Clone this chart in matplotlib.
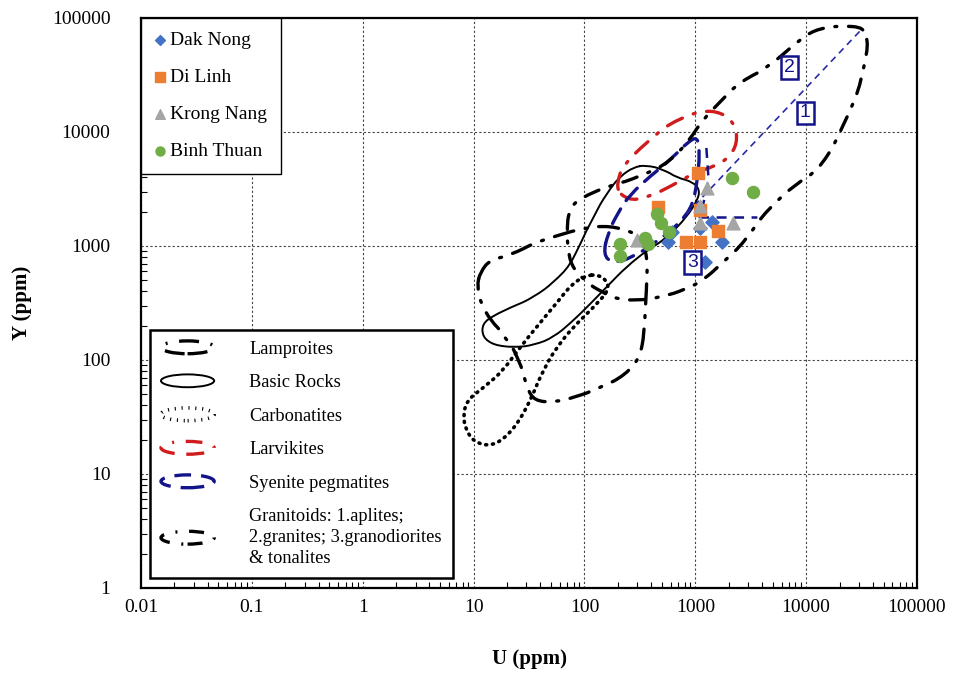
import numpy as np
import matplotlib
matplotlib.use('Agg')
import matplotlib.pyplot as plt
import matplotlib.patches as mpatches
from matplotlib.path import Path
from matplotlib.legend_handler import HandlerPatch

plt.rcParams['font.family'] = ['Liberation Serif', 'DejaVu Serif']

#-------------------------------------------------------------------
# samples, U and Y in ppm
dak_nong_u = [567, 617, 1100, 1415, 1740, 1220]
dak_nong_y = [1085, 1330, 1440, 1620, 1085, 725]

di_linh_u = [460, 1060, 1100, 1600, 825, 1100]
di_linh_y = [2200, 4370, 2070, 1355, 1085, 1085]

krong_nang_u = [298, 1275, 1100, 1100, 2190]
krong_nang_y = [1130, 3230, 2245, 1590, 1590]

binh_thuan_u = [209, 211, 352, 374, 451, 491, 579, 2140, 3310]
binh_thuan_y = [1040, 815, 1175, 1045, 1910, 1590, 1330, 3950, 2980]

# field outlines as (log10 U, log10 Y)
lamproites = [(1.06, 2.77), (1.15, 2.88), (1.33, 2.92), (1.55, 3.03), (1.75, 3.09),
              (1.92, 3.14), (2.14, 3.18), (2.35, 3.15), (2.50, 3.08), (2.57, 2.90),
              (2.56, 2.61), (2.54, 2.22), (2.50, 2.02), (2.37, 1.87), (2.12, 1.75),
              (1.90, 1.67), (1.72, 1.63), (1.55, 1.64), (1.48, 1.75), (1.41, 2.00),
              (1.28, 2.20), (1.15, 2.35), (1.07, 2.48), (1.03, 2.64)]

basic_rocks = [(2.55, 3.71), (2.71, 3.67), (2.83, 3.60), (2.98, 3.56), (3.04, 3.49),
               (3.02, 3.40), (2.92, 3.25), (2.74, 3.07), (2.56, 2.96), (2.38, 2.82),
               (2.17, 2.61), (2.02, 2.46), (1.87, 2.32), (1.72, 2.20), (1.54, 2.13),
               (1.36, 2.11), (1.18, 2.13), (1.08, 2.20), (1.08, 2.32), (1.18, 2.39),
               (1.33, 2.46), (1.54, 2.55), (1.72, 2.68), (1.87, 2.83), (1.96, 3.01),
               (2.07, 3.23), (2.20, 3.46), (2.32, 3.61), (2.44, 3.69)]

carbonatites = [(2.11, 2.75), (2.20, 2.70), (2.22, 2.61), (2.08, 2.46), (1.90, 2.29),
                (1.75, 2.11), (1.63, 1.91), (1.53, 1.68), (1.42, 1.47), (1.27, 1.30),
                (1.12, 1.24), (0.97, 1.30), (0.90, 1.47), (0.94, 1.65), (1.08, 1.75),
                (1.27, 1.91), (1.42, 2.11), (1.57, 2.29), (1.75, 2.50), (1.90, 2.68),
                (2.02, 2.74)]

larvikites = [(2.29, 3.54), (2.35, 3.71), (2.55, 3.90), (2.77, 4.08), (3.04, 4.19),
              (3.24, 4.17), (3.36, 4.06), (3.38, 3.90), (3.30, 3.77), (3.15, 3.69),
              (3.00, 3.65), (2.77, 3.52), (2.57, 3.43), (2.43, 3.40), (2.32, 3.45)]

syenite_pegmatites = [(2.17, 2.92), (2.25, 2.85), (2.41, 2.89), (2.64, 3.03), (2.86, 3.20),
                      (2.98, 3.36), (3.02, 3.58), (3.04, 3.80), (3.02, 3.96), (2.93, 3.91),
                      (2.79, 3.77), (2.59, 3.61), (2.41, 3.45), (2.29, 3.27), (2.21, 3.10)]

granitoids = [(4.49, 4.92), (4.33, 4.93), (4.19, 4.92), (4.04, 4.88), (3.87, 4.75),
              (3.67, 4.58), (3.40, 4.44), (3.22, 4.26), (3.07, 4.11), (2.95, 3.93),
              (2.77, 3.74), (2.50, 3.61), (2.19, 3.52), (1.96, 3.42), (1.86, 3.32),
              (1.84, 3.10), (1.86, 2.89), (1.92, 2.77), (2.05, 2.65), (2.25, 2.54),
              (2.46, 2.52), (2.68, 2.55), (2.91, 2.62), (3.07, 2.70), (3.22, 2.83),
              (3.45, 3.04), (3.65, 3.32), (3.90, 3.54), (4.11, 3.67), (4.26, 3.89),
              (4.38, 4.15), (4.47, 4.35), (4.52, 4.56), (4.56, 4.76), (4.53, 4.87)]

# granitoid sub-field boundaries (log10 U, log10 Y)
aplite_line = [(2.92, 3.28), (4.49, 4.89)]
granodiorite_line = [(3.10, 3.86), (3.12, 3.58), (3.07, 3.36), (3.04, 3.25), (3.56, 3.25)]

# numbered sub-field tags (U, Y)
tag_text = ['1', '2', '3']
tag_u = [9800, 7100, 950]
tag_y = [14700, 37000, 720]

x_ticks = [0.01, 0.1, 1, 10, 100, 1000, 10000, 100000]
x_tick_labels = ['0.01', '0.1', '1', '10', '100', '1000', '10000', '100000']
y_ticks = [1, 10, 100, 1000, 10000, 100000]
y_tick_labels = ['1', '10', '100', '1000', '10000', '100000']

NAVY = '#14148a'
RED = '#d01c1c'

#-------------------------------------------------------------------
def smooth_closed_path(log_pts):
    pts = 10 ** np.asarray(log_pts, dtype=float)
    mids = (pts + np.roll(pts, -1, axis=0)) / 2
    verts = [mids[-1]]
    codes = [Path.MOVETO]
    for i in range(len(pts)):
        verts += [pts[i], mids[i]]
        codes += [Path.CURVE3, Path.CURVE3]
    return Path(verts, codes)


def add_field(ax, log_pts, **kw):
    patch = mpatches.PathPatch(smooth_closed_path(log_pts), fill=False,
                               capstyle='round', joinstyle='round', zorder=3, **kw)
    ax.add_patch(patch)
    return patch


def ellipse_handle(legend, orig_handle, xdescent, ydescent, width, height, fontsize):
    return mpatches.Ellipse((width / 2 - xdescent, height / 2 - ydescent), width, height)


#-------------------------------------------------------------------
fig = plt.figure(figsize=(9.57, 6.77), dpi=100)
ax = fig.add_axes([141 / 957, 89 / 677, 776 / 957, 570 / 677])
ax.set_xscale('log')
ax.set_yscale('log')
ax.set_xlim(0.01, 100000)
ax.set_ylim(1, 100000)

ax.grid(True, which='major', color='#444444', linestyle=(0, (2, 2)), linewidth=0.8, zorder=0)
ax.set_axisbelow(True)

lamp = add_field(ax, lamproites, edgecolor='black', linewidth=2.4,
                 linestyle=(0, (6, 3.5, 0.6, 3.5)))
basic = add_field(ax, basic_rocks, edgecolor='black', linewidth=1.4, linestyle='-')
carb = add_field(ax, carbonatites, edgecolor='black', linewidth=2.6,
                 linestyle=(0, (0.3, 1.6)))
larv = add_field(ax, larvikites, edgecolor=RED, linewidth=2.4,
                 linestyle=(0, (5, 3.5, 0.6, 3.5)))
syen = add_field(ax, syenite_pegmatites, edgecolor=NAVY, linewidth=2.4,
                 linestyle=(0, (5, 3)))
gran = add_field(ax, granitoids, edgecolor='black', linewidth=2.4,
                 linestyle=(0, (4.5, 3.5, 0.6, 3.5)))

al = 10 ** np.array(aplite_line)
ax.plot(al[:, 0], al[:, 1], color='#2a2aa8', linewidth=1.2, linestyle=(0, (4, 3)), zorder=3)
gl = 10 ** np.array(granodiorite_line)
ax.plot(gl[:, 0], gl[:, 1], color=NAVY, linewidth=1.8, linestyle=(0, (4, 3)), zorder=3)

for t, u, y in zip(tag_text, tag_u, tag_y):
    ax.text(u, y, t, ha='center', va='center', color=NAVY, fontsize=14,
            family='Liberation Sans', zorder=6,
            bbox=dict(boxstyle='square,pad=0.15', facecolor='white', edgecolor=NAVY, linewidth=1.8))

s1 = ax.scatter(dak_nong_u, dak_nong_y, marker='D', s=45, color='#4472c4', zorder=5, label='Dak Nong')
s2 = ax.scatter(di_linh_u, di_linh_y, marker='s', s=75, color='#ed7d31', zorder=5, label='Di Linh')
s3 = ax.scatter(krong_nang_u, krong_nang_y, marker='^', s=85, color='#a5a5a5', zorder=5, label='Krong Nang')
s4 = ax.scatter(binh_thuan_u, binh_thuan_y, marker='o', s=75, color='#70ad47', zorder=5, label='Binh Thuan')

ax.set_xticks(x_ticks)
ax.set_xticklabels(x_tick_labels)
ax.set_yticks(y_ticks)
ax.set_yticklabels(y_tick_labels)
ax.tick_params(which='both', direction='in', top=False, right=False)
ax.tick_params(which='major', length=0, labelsize=14)
ax.tick_params(which='minor', length=4, width=0.8)
ax.tick_params(axis='x', which='major', pad=8)
ax.tick_params(axis='y', which='major', pad=22)
for sp in ax.spines.values():
    sp.set_linewidth(1.6)

ax.set_xlabel('U (ppm)', fontsize=15, fontweight='bold', labelpad=24)
ax.set_ylabel('Y (ppm)', fontsize=15, fontweight='bold', labelpad=14)

leg1 = ax.legend(handles=[s1, s2, s3, s4], loc='upper left', bbox_to_anchor=(0, 1),
                 borderaxespad=0, fontsize=14, frameon=True, fancybox=False,
                 edgecolor='black', framealpha=1, handlelength=0.6, handletextpad=0.2,
                 labelspacing=1.0, markerscale=0.75, borderpad=0.7)
leg1.get_frame().set_linewidth(1.0)
ax.add_artist(leg1)

leg2 = ax.legend(handles=[lamp, basic, carb, larv, syen, gran],
                 labels=['Lamproites', 'Basic Rocks', 'Carbonatites', 'Larvikites',
                         'Syenite pegmatites',
                         'Granitoids: 1.aplites;\n2.granites; 3.granodiorites\n& tonalites'],
                 handler_map={mpatches.PathPatch: HandlerPatch(patch_func=ellipse_handle)},
                 loc='lower left', bbox_to_anchor=(0.0116, 0.0175), borderaxespad=0,
                 fontsize=13.2, frameon=True, fancybox=False, edgecolor='black',
                 framealpha=1, handlelength=2.9, handleheight=0.7, handletextpad=1.9,
                 labelspacing=0.9, borderpad=0.6)
leg2.get_frame().set_linewidth(1.8)
for txt in leg2.get_texts():
    txt.set_linespacing(1.3)

fig.savefig('out.png', dpi=100)
